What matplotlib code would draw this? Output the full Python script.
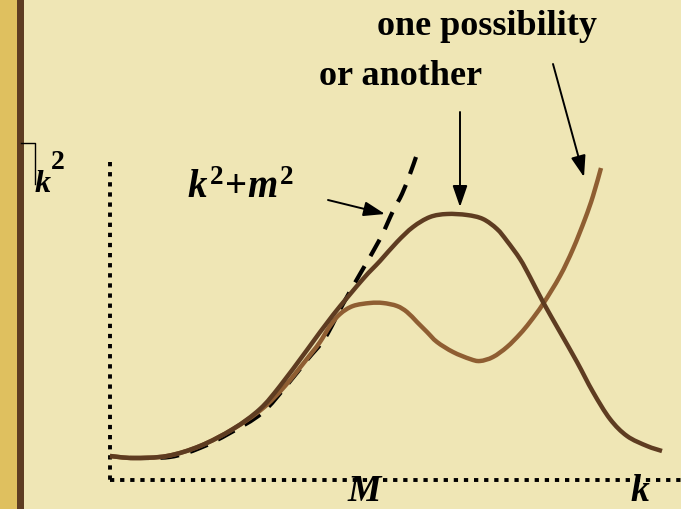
import matplotlib
matplotlib.use("Agg")
import numpy as np
import matplotlib.pyplot as plt
from matplotlib.path import Path
from matplotlib.patches import PathPatch

plt.rcParams['font.family'] = ['Liberation Serif', 'DejaVu Serif']
plt.rcParams['mathtext.fontset'] = 'custom'
plt.rcParams['mathtext.it'] = 'Liberation Serif:bold:italic'
plt.rcParams['mathtext.rm'] = 'Liberation Serif:bold'
plt.rcParams['mathtext.bf'] = 'Liberation Serif:bold'

# curves: k position and height above the k axis
k_dark = [110, 133, 167, 200, 233, 260, 280, 307, 333, 363, 380, 397, 413, 430, 447,
          467, 483, 497, 507, 520, 530, 543, 560, 577, 593, 610, 627, 647, 662]
h_dark = [24, 22, 24, 34, 51, 71, 94, 130, 165, 201, 219, 238, 253, 263, 266,
          265, 261, 251, 239, 221, 203, 178, 148, 118, 88, 61, 44, 34, 29]

k_light = [110, 133, 167, 200, 233, 262, 285, 310, 320, 330, 340, 353, 370, 383, 397, 407,
           417, 427, 437, 453, 470, 480, 493, 507, 520, 530, 543, 560, 573, 585, 593, 601]
h_light = [24, 22, 24, 34, 51, 71, 94, 125, 138, 154, 166, 174, 177, 177, 174, 168,
           158, 148, 138, 128, 121, 119, 123, 133, 146, 158, 176, 204, 231, 261, 284, 312]

k_free = [130, 170, 200, 230, 262, 287, 307, 325, 343, 360, 380, 393, 402, 410, 416]
h_free = [22, 23, 32, 47, 67, 95, 120, 142, 176, 206, 241, 269, 286, 306, 323]

bg = '#EFE6B5'
dark = '#5E3C21'
light = '#8F5E32'


def smooth_path(xs, ys):
    # Catmull-Rom through the read points, drawn as cubic Bezier segments
    p = np.column_stack([xs, ys]).astype(float)
    ext = np.vstack([p[0], p, p[-1]])
    verts = [p[0]]
    codes = [Path.MOVETO]
    for i in range(len(p) - 1):
        p0, p1, p2, p3 = ext[i], ext[i + 1], ext[i + 2], ext[i + 3]
        verts += [p1 + (p2 - p0) / 6, p2 - (p3 - p1) / 6, p2]
        codes += [Path.CURVE4] * 3
    return Path(verts, codes)


fig = plt.figure(figsize=(6.81, 5.10), dpi=100, facecolor=bg)
ax = fig.add_axes([0, 0, 1, 1])
ax.set_facecolor(bg)
ax.set_xlim(0, 681)
ax.set_ylim(-29, 481)
ax.axis('off')

# left stripe of the slide
ax.axvspan(0, 17, color='#DFC05F', lw=0)
ax.axvspan(17, 24, color='#5E3D22', lw=0)

# dotted axes
dots = dict(color='black', lw=2.8, linestyle=(0, (1.1, 1.5)), dash_capstyle='butt')
ax.plot([110, 110], [318, 0], **dots)
ax.plot([110, 681], [0, 0], **dots)

ax.add_patch(PathPatch(smooth_path(k_free, h_free), fill=False, edgecolor='black', lw=3.0,
                       linestyle=(0, (4.5, 2.8)), capstyle='butt', zorder=2))
ax.add_patch(PathPatch(smooth_path(k_light, h_light), fill=False, edgecolor=light, lw=3.2,
                       capstyle='butt', joinstyle='round', zorder=3))
ax.add_patch(PathPatch(smooth_path(k_dark, h_dark), fill=False, edgecolor=dark, lw=3.2,
                       capstyle='butt', joinstyle='round', zorder=4))

# labels
ax.plot([21, 35, 35], [337, 337, 296], color='black', lw=1.0)
ax.text(35, 289, 'k', fontsize=23, fontweight='bold', fontstyle='italic', va='baseline')
ax.text(51, 312, '2', fontsize=20, fontweight='bold', va='baseline')

ax.text(187, 283, r'$k^2\!+\!m^2$', fontsize=28, va='baseline')
ax.text(487, 446, 'one possibility', fontsize=26, fontweight='bold', ha='center', va='baseline')
ax.text(401, 396, 'or another', fontsize=26, fontweight='bold', ha='center', va='baseline')
ax.text(364, -28, 'M', fontsize=27, fontweight='bold', fontstyle='italic', ha='center', va='bottom')
ax.text(640, -28, 'k', fontsize=27, fontweight='bold', fontstyle='italic', ha='center', va='bottom')

arrow = dict(arrowstyle='-|>,head_length=1.3,head_width=0.45', color='black', lw=1.4,
             shrinkA=0, shrinkB=0)
ax.annotate('', xy=(385, 266), xytext=(328, 280), arrowprops=arrow)
ax.annotate('', xy=(460, 273), xytext=(460, 368), arrowprops=arrow)
ax.annotate('', xy=(584, 303), xytext=(553, 416), arrowprops=arrow)

fig.savefig('out.png', dpi=100, facecolor=bg)
